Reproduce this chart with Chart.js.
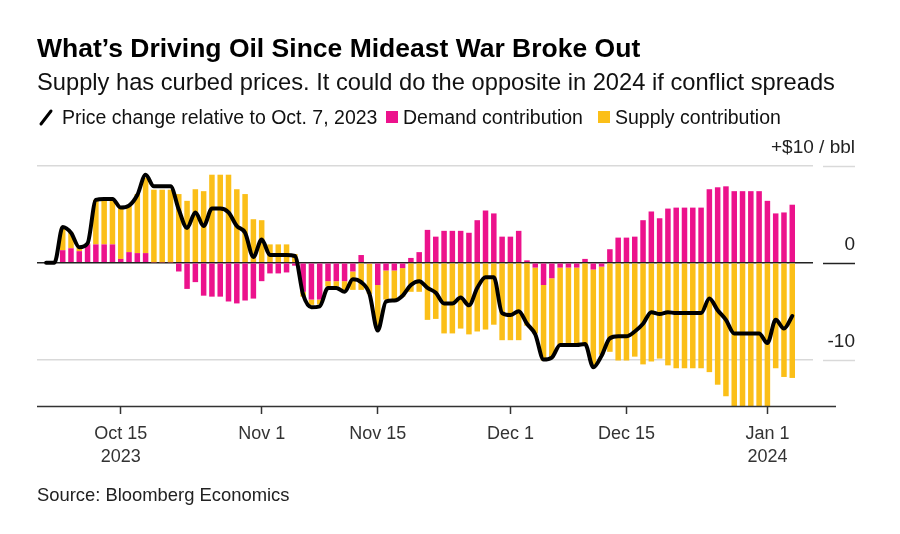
<!DOCTYPE html>
<html>
<head>
<meta charset="utf-8">
<script src="https://cdn.jsdelivr.net/npm/chart.js@4.4.1/dist/chart.umd.min.js"></script>
<style>
  html, body { margin: 0; padding: 0; background: #fff; }
  body { width: 900px; height: 534px; position: relative; overflow: hidden; font-family: "Liberation Sans", Arial, sans-serif; color: #111; }
  #chart { position: absolute; left: 0; top: 0; }
  .txt { position: absolute; white-space: nowrap; }
  #title { left: 37px; top: 33px; font-size: 26.5px; line-height: 30px; font-weight: 700; color: #000; }
  #subtitle { left: 37px; top: 68px; font-size: 23.7px; line-height: 28px; color: #111; }
  .leg { top: 105px; font-size: 19.5px; line-height: 24px; color: #111; }
  .sw { position: absolute; top: 6px; width: 12px; height: 12px; }
  #source { left: 37px; top: 484px; font-size: 18.4px; line-height: 22px; color: #222; }
</style>
</head>
<body>
<canvas id="chart" width="900" height="534"></canvas>
<div id="title" class="txt">What’s Driving Oil Since Mideast War Broke Out</div>
<div id="subtitle" class="txt">Supply has curbed prices. It could do the opposite in 2024 if conflict spreads</div>
<div class="txt leg" style="left:37px;">
  <svg width="16" height="24" style="position:absolute;left:1px;top:0"><line x1="3" y1="19" x2="13" y2="6" stroke="#000" stroke-width="3" stroke-linecap="round"/></svg>
  <span style="margin-left:25px">Price change relative to Oct. 7, 2023</span>
</div>
<div class="txt leg" style="left:386px;"><span class="sw" style="left:0;background:#ec128c"></span><span style="margin-left:17px">Demand contribution</span></div>
<div class="txt leg" style="left:598px;"><span class="sw" style="left:0;background:#fbbf18"></span><span style="margin-left:17px">Supply contribution</span></div>
<div id="source" class="txt">Source: Bloomberg Economics</div>

<script>
// daily values, $/bbl relative to Oct. 7, 2023
const priceStart = '2023-10-06';
const price = [
  0, 0, 3.7, 3.1, 1.6, 2.0, 6.5, 6.6, 6.6, 5.7, 5.9, 7.0, 9.1, 7.9, 7.9, 7.9, 5.5, 3.6, 5.2, 3.8, 5.6, 5.6, 5.2, 3.8, 3.1, 0.6,
  2.4, 0.8, 0.8, 0.8, 0.7, -3.3, -4.6, -4.5, -2.6, -2.6, -3.0, -1.7, -2.0, -3.2, -7.0, -4.0, -3.9, -3.4, -2.3, -1.9,
  -2.6, -3.1, -4.2, -4.2, -3.6, -4.4, -2.6, -1.5, -1.5, -5.2,
  -5.4, -5.0, -6.3, -7.4, -10.0, -9.8, -8.5, -8.5, -8.5, -8.4, -10.8, -9.6, -7.8, -7.6, -7.6, -7.1, -6.3, -5.1, -5.3, -5.1,
  -5.2, -5.2, -5.2, -5.2, -3.7, -4.9, -5.9, -7.3, -7.3, -7.3, -7.3,
  -8.3, -5.9, -6.8, -5.5
];

const barStart = '2023-10-08';
const demand = [
  1.3, 1.5, 1.2, 1.9, 1.9, 1.9, 1.9, 0.4, 1.1, 1.0, 1.0, 0.05, 0.05, 0.05, -0.9, -2.7, -2.0, -3.4, -3.5, -3.5, -4.0, -4.2, -3.9, -3.7,
  -1.9, -1.1, -1.1, -1.0, -0.3, -3.0, -3.8, -3.8, -1.9, -1.9, -1.9, -0.9, 0.8, -0.1, -2.3, -0.8, -0.8, -0.55, 0.5, 1.1,
  3.4, 2.7, 3.3, 3.3, 3.3, 3.1, 4.4, 5.4, 5.1, 2.7,
  2.7, 3.3, 0.25, -0.5, -2.3, -1.6, -0.5, -0.5, -0.5, 0.4, -0.7, -0.4, 1.4, 2.6, 2.6, 2.7, 4.4, 5.3, 4.6, 5.6,
  5.7, 5.7, 5.7, 5.7, 7.6, 7.8, 7.9, 7.4, 7.4, 7.4, 7.4,
  6.4, 5.1, 5.2, 6.0
];
const supply = [
  2.4, 1.6, 0.4, 0.1, 4.6, 4.7, 4.7, 5.3, 4.8, 6.1, 7.8, 7.5, 7.5, 7.5, 7.1, 6.4, 7.6, 7.4, 9.1, 9.1, 9.1, 7.6, 7.1, 4.5,
  4.4, 1.9, 1.9, 1.9, 0.9, -0.5, -0.55, -0.5, -0.55, -0.55, -0.9, -1.9, -2.8, -3.1, -4.6, -3.0, -3.0, -2.95, -3.0, -3.0,
  -5.9, -5.8, -7.3, -7.3, -6.8, -7.4, -7.1, -6.9, -6.4, -8.0,
  -8.0, -8.0, -6.5, -6.8, -7.8, -8.2, -8.0, -8.0, -8.0, -8.6, -9.9, -9.1, -9.2, -10.1, -10.1, -9.7, -10.5, -10.2, -9.9, -10.6,
  -10.9, -10.9, -10.9, -10.9, -11.3, -12.6, -13.8, -15.2, -15.2, -15.2, -15.2,
  -14.8, -10.9, -11.8, -11.9
];

const tickDates = ['2023-10-15', '2023-11-01', '2023-11-15', '2023-12-01', '2023-12-15', '2024-01-01'];
const tickLabels = [['Oct 15', '2023'], 'Nov 1', 'Nov 15', 'Dec 1', 'Dec 15', ['Jan 1', '2024']];
const yValues = [10, 0, -10];
const yLabels = ['+$10 / bbl', '0', '-10'];

// day number, Oct 1 2023 = 1
function dayNum(iso) {
  const p = iso.split('-').map(Number);
  return (Date.UTC(p[0], p[1] - 1, p[2]) - Date.UTC(2023, 9, 1)) / 864e5 + 1;
}
function toPoints(start, vals) {
  const d0 = dayNum(start);
  return vals.map((v, i) => ({ x: d0 + i, y: v }));
}
const tickDays = tickDates.map(dayNum);

const FONT = '"Liberation Sans", Arial, sans-serif';
Chart.defaults.font.family = FONT;

const extras = {
  id: 'extras',
  afterDraw(chart) {
    const { ctx, chartArea, scales } = chart;
    const y = scales.y;
    ctx.save();
    // short rules + labels on the right
    yValues.forEach((v, i) => {
      const py = Math.round(y.getPixelForValue(v)) + 0.5;
      ctx.strokeStyle = v === 0 ? '#222' : '#d9d9d9';
      ctx.lineWidth = 1.5;
      ctx.beginPath();
      ctx.moveTo(chartArea.right + 10, py);
      ctx.lineTo(chartArea.right + 42, py);
      ctx.stroke();
      ctx.fillStyle = '#222';
      ctx.font = '19px ' + FONT;
      ctx.textAlign = 'right';
      ctx.textBaseline = 'middle';
      ctx.fillText(yLabels[i], chartArea.right + 42, py - 18.5);
    });
    // bottom axis line runs past the plot
    ctx.strokeStyle = '#333';
    ctx.lineWidth = 1.5;
    ctx.beginPath();
    ctx.moveTo(chartArea.left, chartArea.bottom + 0.5);
    ctx.lineTo(chartArea.right + 23, chartArea.bottom + 0.5);
    ctx.stroke();
    ctx.restore();
  }
};

new Chart(document.getElementById('chart'), {
  type: 'bar',
  data: {
    datasets: [
      {
        type: 'line',
        label: 'Price change relative to Oct. 7, 2023',
        data: toPoints(priceStart, price),
        stack: 'price',
        borderColor: '#000',
        borderWidth: 4,
        pointRadius: 0,
        cubicInterpolationMode: 'monotone',
        borderJoinStyle: 'round',
        borderCapStyle: 'round',
        order: 0
      },
      {
        label: 'Demand contribution',
        data: toPoints(barStart, demand),
        stack: 'contrib',
        backgroundColor: '#ec128c',
        categoryPercentage: 0.7,
        barPercentage: 0.95,
        order: 1
      },
      {
        label: 'Supply contribution',
        data: toPoints(barStart, supply),
        stack: 'contrib',
        backgroundColor: '#fbbf18',
        categoryPercentage: 0.7,
        barPercentage: 0.95,
        order: 1
      }
    ]
  },
  options: {
    responsive: false,
    animation: false,
    devicePixelRatio: 1,
    layout: { padding: { left: 37, right: 87, top: 166, bottom: 0 } },
    plugins: { legend: { display: false }, tooltip: { enabled: false } },
    scales: {
      x: {
        type: 'linear',
        offset: false,
        min: 4.9,
        max: 98.5,
        afterBuildTicks: s => { s.ticks = tickDays.map(v => ({ value: v })); },
        afterFit: s => { s.height = 128; },
        grid: { offset: false, drawOnChartArea: false, drawTicks: true, tickLength: 8, tickColor: '#333', tickWidth: 1.5 },
        border: { display: false },
        ticks: {
          autoSkip: false,
          maxRotation: 0,
          padding: 8,
          color: '#333',
          font: { size: 18, lineHeight: 1.3 },
          callback: (v, i) => tickLabels[i]
        }
      },
      y: {
        stacked: true,
        min: -14.8,
        max: 10,
        afterBuildTicks: s => { s.ticks = yValues.map(v => ({ value: v })); },
        afterFit: s => { s.width = 0; },
        grid: {
          drawTicks: false,
          lineWidth: 1.5,
          color: c => (c.tick && c.tick.value === 0) ? '#222' : '#d9d9d9'
        },
        border: { display: false },
        ticks: { display: false }
      }
    }
  },
  plugins: [extras]
});
</script>
</body>
</html>
